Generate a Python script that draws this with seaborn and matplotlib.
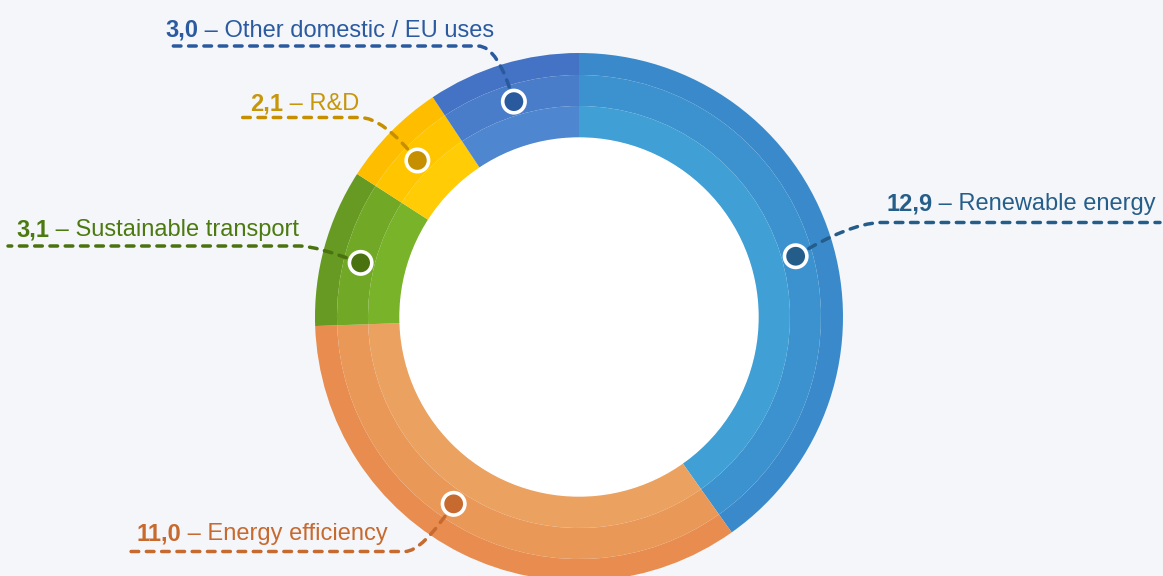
import numpy as np
import matplotlib
matplotlib.use("Agg")
import matplotlib.pyplot as plt
from matplotlib.path import Path
from matplotlib.patches import PathPatch
import seaborn as sns

# data (billion EUR)
categories = ["Renewable energy", "Energy efficiency", "Sustainable transport",
              "R&D", "Other domestic / EU uses"]
values = [12.9, 11.0, 3.1, 2.1, 3.0]
value_labels = ["12,9", "11,0", "3,1", "2,1", "3,0"]

# ring colours: outer, middle, inner band
ring_colors = {
    "Renewable energy": ["#3a8acb", "#3b92cf", "#40a0d5"],
    "Energy efficiency": ["#e88c4f", "#ea9857", "#eba261"],
    "Sustainable transport": ["#669a22", "#71a825", "#78b32a"],
    "R&D": ["#ffbd00", "#ffc600", "#ffcc05"],
    "Other domestic / EU uses": ["#4472c4", "#497cc9", "#4e87cf"],
}
text_colors = ["#265e8a", "#c8692e", "#4c7a10", "#c7960a", "#2b5aa0"]
dot_colors = ["#255d8a", "#c66a30", "#4a720e", "#c68f00", "#2a5a9e"]

W, H = 1163, 576
sns.set_theme(style="white")
plt.rcParams["font.family"] = ["Liberation Sans", "DejaVu Sans"]

fig = plt.figure(figsize=(W / 100, H / 100), dpi=100)
fig.patch.set_facecolor("#f4f6fa")
ax = fig.add_axes([0, 0, 1, 1])
ax.set_facecolor("#f4f6fa")

def Y(y):
    # image pixel row -> axis y
    return H - y

cx, cy = 579, Y(317)
r_out, r_inner = 264, 179
bands = [(264, 242), (242, 211), (211, 179)]

for k, (ro, ri) in enumerate(bands):
    cols = [ring_colors[c][k] for c in categories]
    ax.pie(values, colors=cols, radius=ro, center=(cx, cy), startangle=90,
           counterclock=False, frame=True,
           wedgeprops=dict(width=ro - ri, linewidth=0, antialiased=True))

# white hole
ax.add_patch(plt.Circle((cx, cy), r_inner, color="white", zorder=3))

ax.set_xlim(0, W)
ax.set_ylim(0, H)
ax.set_aspect("equal")
ax.axis("off")

# marker positions at the middle angle of each slice
total = sum(values)
cum = np.cumsum(values) - np.array(values) / 2
shift = [-2, -7.5, 1.5, 0.5, 0]  # small nudges of the markers
theta = np.deg2rad(90 - 360 * cum / total + np.array(shift))
r_dot = 225
dx = cx + r_dot * np.cos(theta)
dy = cy + r_dot * np.sin(theta)

# label layout: text x, baseline, line y, line far end, bezier control, elbow
layout = [
    dict(tx=886, ty=210, ly=222.5, lend=1160, ctrl=(848, 224), elbow=(880, 222.5)),
    dict(tx=136, ty=540, ly=551.5, lend=125, ctrl=(422, 551.5), elbow=(405, 551.5)),
    dict(tx=16, ty=236, ly=246, lend=8, ctrl=(316, 246), elbow=(300, 246)),
    dict(tx=250, ty=110, ly=117.5, lend=240, ctrl=(383, 117.5), elbow=(360, 117.5)),
    dict(tx=165, ty=37, ly=46, lend=167, ctrl=(498, 46), elbow=(478, 46)),
]

for i, lay in enumerate(layout):
    p0 = (dx[i], dy[i])
    c = (lay["ctrl"][0], Y(lay["ctrl"][1]))
    e = (lay["elbow"][0], Y(lay["elbow"][1]))
    f = (lay["lend"], Y(lay["ly"]))
    path = Path([p0, c, e, f], [Path.MOVETO, Path.CURVE3, Path.CURVE3, Path.LINETO])
    ax.add_patch(PathPatch(path, fill=False, edgecolor=dot_colors[i], lw=2.5,
                           linestyle=(0, (2.2, 2.2)), capstyle="round", zorder=4))

sns.scatterplot(x=dx, y=dy, hue=categories, palette=dot_colors, s=260,
                edgecolor="white", linewidth=2.6, legend=False, ax=ax, zorder=5)

fig.canvas.draw()
renderer = fig.canvas.get_renderer()
inv = ax.transData.inverted()
for i, lay in enumerate(layout):
    t1 = ax.text(lay["tx"], Y(lay["ty"]), value_labels[i], color=text_colors[i],
                 fontsize=17, fontweight="bold", va="baseline", ha="left")
    bb = t1.get_window_extent(renderer)
    x_end = inv.transform((bb.x1, bb.y0))[0]
    ax.text(x_end, Y(lay["ty"]), " \u2013 " + categories[i], color=text_colors[i],
            fontsize=17, va="baseline", ha="left")

fig.savefig("out.png", dpi=100, facecolor=fig.get_facecolor())
